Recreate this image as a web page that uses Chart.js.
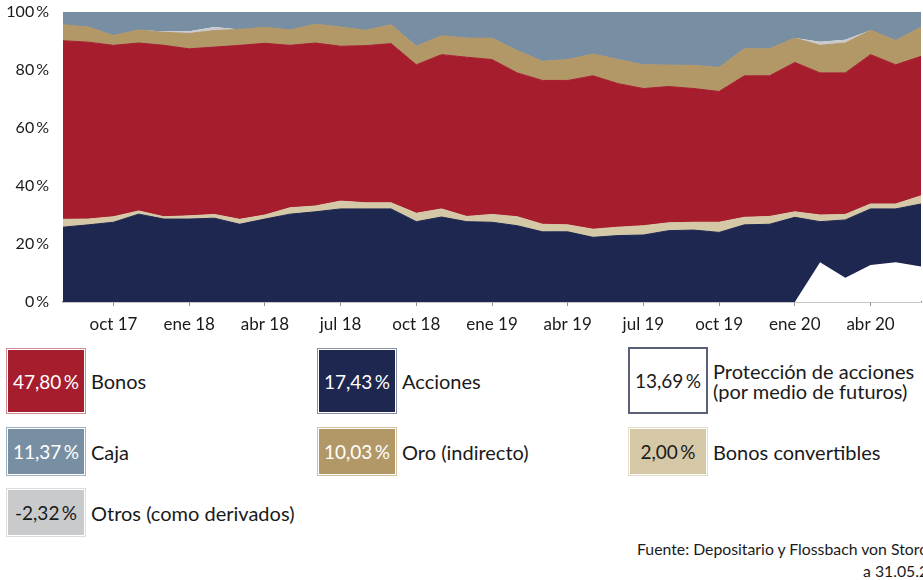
<!DOCTYPE html>
<html lang="es">
<head>
<meta charset="utf-8">
<script src="https://cdn.jsdelivr.net/npm/chart.js@4.4.1/dist/chart.umd.min.js"></script>
<style>
  html, body { margin: 0; padding: 0; background: #fff; }
  body { width: 923px; height: 580px; overflow: hidden; position: relative;
         font-family: Lato, "Open Sans", sans-serif; color: #1a1a1a; }
  #chart-wrap { position: absolute; left: 0; top: 0; width: 923px; height: 345px; }
  .box { position: absolute; box-sizing: border-box; border: 1px solid; padding: 1px; width: 80px; }
  .box span { display: flex; width: 100%; height: 100%; align-items: center; justify-content: center;
              font-size: 19px; color: #fff; }
  .lbl { position: absolute; display: flex; align-items: center; font-size: 20px; white-space: nowrap; }
  .src { position: absolute; font-size: 15.8px; white-space: nowrap; }
</style>
</head>
<body>
<div id="chart-wrap"><canvas id="assets-chart" width="923" height="345"></canvas></div>

<!-- legend -->
<div class="box" style="left:6px;top:348px;height:66px;border-color:#d08a93;"><span style="background:#a61e2e;">47,80&#8201;%</span></div>
<div class="lbl" style="left:91px;top:348px;height:66px;">Bonos</div>
<div class="box" style="left:317px;top:348px;height:66px;border-color:#8a8fa6;"><span style="background:#1e274f;">17,43&#8201;%</span></div>
<div class="lbl" style="left:402px;top:348px;height:66px;">Acciones</div>
<div class="box" style="left:628px;top:347px;height:67px;border:2px solid #5b6079;padding:0;"><span style="background:#fff;color:#1a1a1a;">13,69&#8201;%</span></div>
<div class="lbl" style="left:713px;top:347px;height:67px;line-height:20px;">Protección de acciones<br>(por medio de futuros)</div>

<div class="box" style="left:6px;top:427px;height:49px;border-color:#9fb0be;"><span style="background:#788fa3;">11,37&#8201;%</span></div>
<div class="lbl" style="left:91px;top:427px;height:49px;">Caja</div>
<div class="box" style="left:317px;top:427px;height:49px;border-color:#d3c09e;"><span style="background:#b29767;">10,03&#8201;%</span></div>
<div class="lbl" style="left:402px;top:427px;height:49px;">Oro (indirecto)</div>
<div class="box" style="left:628px;top:427px;height:49px;border-color:#e6ddc8;"><span style="background:#d5c8a7;color:#1a1a1a;">2,00&#8201;%</span></div>
<div class="lbl" style="left:713px;top:427px;height:49px;">Bonos convertibles</div>

<div class="box" style="left:6px;top:488px;height:49px;border-color:#dcdcdc;"><span style="background:#c9cacc;color:#1a1a1a;">-2,32&#8201;%</span></div>
<div class="lbl" style="left:91px;top:488px;height:49px;">Otros (como derivados)</div>

<div class="src" style="left:637px;top:539px;">Fuente: Depositario y Flossbach von Storch</div>
<div class="src" style="left:863px;top:561px;">a 31.05.2020</div>

<script>
// months (start of month = end of previous month data point)
const months = ['ago 17', 'sep 17', 'oct 17', 'nov 17', 'dic 17',
    'ene 18', 'feb 18', 'mar 18', 'abr 18', 'may 18', 'jun 18', 'jul 18', 'ago 18', 'sep 18', 'oct 18', 'nov 18', 'dic 18',
    'ene 19', 'feb 19', 'mar 19', 'abr 19', 'may 19', 'jun 19', 'jul 19', 'ago 19', 'sep 19', 'oct 19', 'nov 19', 'dic 19',
    'ene 20', 'feb 20', 'mar 20', 'abr 20', 'may 20', 'jun 20'];
const shownMonths = ['oct', 'ene', 'abr', 'jul'];

const yTicks = [0, 20, 40, 60, 80, 100];

// portfolio weights in %
const acciones = [25.8, 26.6, 27.5, 30.3, 28.6, 28.6, 28.9, 26.8, 28.6, 30.3, 31.1, 32.1, 32.1, 32.1, 27.7, 29.3, 27.7, 27.5,
    26.3, 24.2, 24.2, 22.3, 22.9, 23.1, 24.6, 24.8, 24.0, 26.6, 26.8, 29.2, 27.7, 28.3, 32.1, 32.1, 33.8];
const convertibles = [2.7, 2.0, 1.9, 1.1, 0.8, 1.1, 1.3, 1.7, 1.4, 2.2, 2.0, 2.7, 2.1, 2.1, 2.9, 2.8, 1.8, 2.7,
    3.1, 2.6, 2.4, 2.8, 2.9, 3.2, 2.7, 2.7, 3.5, 2.6, 2.7, 1.9, 2.3, 1.9, 1.7, 1.7, 2.8];
const bonos = [61.6, 61.0, 59.1, 57.9, 59.1, 57.6, 57.7, 60.0, 59.2, 56.0, 56.2, 53.4, 54.2, 54.9, 51.2, 53.2, 54.9, 53.4,
    49.6, 49.6, 49.8, 52.9, 49.5, 47.3, 47.0, 46.1, 45.1, 48.8, 48.5, 51.5, 49.0, 48.8, 51.5, 48.0, 48.1];
const oro = [5.5, 5.2, 3.4, 4.5, 4.5, 5.3, 5.7, 5.5, 5.5, 5.3, 6.5, 6.6, 5.3, 6.5, 6.4, 6.5, 6.6, 7.4,
    7.7, 6.6, 7.2, 7.5, 8.3, 8.2, 7.4, 8.0, 8.3, 9.3, 9.3, 8.4, 9.5, 10.3, 8.4, 8.4, 10.0];
const otros = [0, 0, 0, 0, 0.3, 0.8, 1.2, 0, 0, 0, 0, 0, 0, 0, 0, 0, 0, 0,
    0, 0, 0, 0, 0, 0, 0, 0, 0, 0, 0, 0, 1.2, 1.1, 0, 0, 0];
const caja = [4.4, 5.2, 8.1, 6.2, 6.7, 6.6, 5.2, 6.0, 5.3, 6.2, 4.2, 5.2, 6.3, 4.4, 11.8, 8.2, 9.0, 9.0,
    13.3, 17.0, 16.4, 14.5, 16.4, 18.2, 18.3, 18.4, 19.1, 12.7, 12.7, 9.0, 10.3, 9.6, 6.3, 9.8, 5.3];
const proteccion = [null, null, null, null, null, null, null, null, null, null, null, null, null, null, null, null, null, null,
    null, null, null, null, null, null, null, null, null, null, null, 0, 13.7, 8.4, 12.8, 13.7, 12.2];

const FONT = 'Lato, "Open Sans", sans-serif';

function area(label, data, color, fill, extra) {
    return Object.assign({
        label: label,
        data: data,
        backgroundColor: color,
        borderColor: color,
        borderWidth: 1,
        pointRadius: 0,
        tension: 0,
        fill: fill,
        stack: 'mix'
    }, extra || {});
}

const ctx = document.getElementById('assets-chart').getContext('2d');
new Chart(ctx, {
    type: 'line',
    data: {
        labels: months,
        datasets: [
            // hedge drawn on top of equities
            area('Protección de acciones', proteccion, '#ffffff', 'origin', { stack: 'hedge', borderWidth: 0 }),
            area('Acciones', acciones, '#1e274f', 'origin'),
            area('Bonos convertibles', convertibles, '#d5c8a7', '-1'),
            area('Bonos', bonos, '#a61e2e', '-1'),
            area('Oro (indirecto)', oro, '#b29767', '-1'),
            area('Otros', otros, '#c9cacc', '-1', { borderWidth: 0 }),
            area('Caja', caja, '#788fa3', '-1')
        ]
    },
    options: {
        responsive: false,
        animation: false,
        devicePixelRatio: 1,
        layout: { padding: { top: 12, right: 2, left: 0, bottom: 0 } },
        plugins: { legend: { display: false }, tooltip: { enabled: false } },
        scales: {
            x: {
                z: 1,
                grid: { drawOnChartArea: false, drawTicks: true, tickLength: 4, color: '#8c8c8c', lineWidth: 1 },
                border: { color: '#8c8c8c', width: 1.5 },
                ticks: {
                    autoSkip: false, maxRotation: 0, padding: 8,
                    color: '#1a1a1a', font: { family: FONT, size: 17 },
                    callback: function (value) {
                        const l = this.getLabelForValue(value);
                        return shownMonths.includes(l.slice(0, 3)) ? l : null;
                    }
                },
                afterFit: s => { s.height = 43; s.paddingLeft = 0; s.paddingRight = 0; }
            },
            y: {
                stacked: true,
                min: 0, max: 100,
                grid: { display: false },
                border: { display: false },
                afterBuildTicks: s => { s.ticks = yTicks.map(v => ({ value: v })); },
                ticks: {
                    padding: 6, color: '#1a1a1a', font: { family: FONT, size: 16 },
                    callback: v => v + '\u2009%'
                },
                afterFit: s => { s.width = 63; s.paddingTop = 0; s.paddingBottom = 0; }
            }
        }
    }
});
</script>
</body>
</html>
